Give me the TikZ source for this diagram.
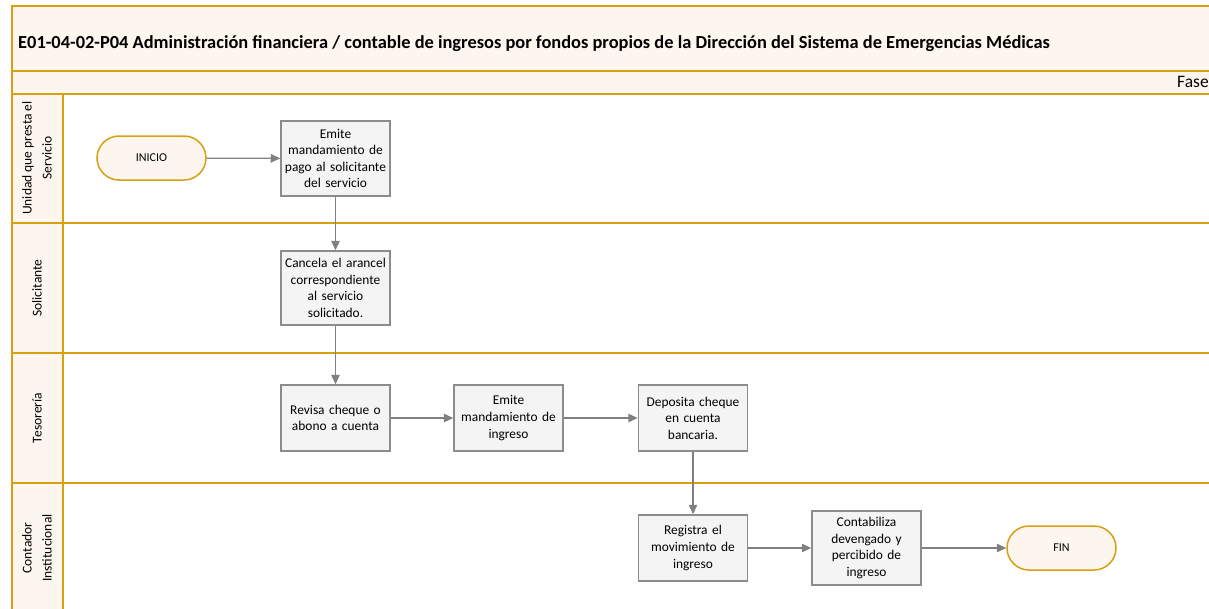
\documentclass[tikz,border=0pt]{standalone}
\usepackage{fontspec}
\setmainfont{Carlito}
\usetikzlibrary{arrows.meta}
\definecolor{gold}{RGB}{214,160,18}
\definecolor{cream}{RGB}{253,246,238}
\definecolor{boxfill}{RGB}{244,244,244}
\definecolor{boxline}{RGB}{140,140,140}
\definecolor{arr}{RGB}{128,128,128}
\tikzset{
  stepbox/.style={draw=boxline, fill=boxfill, line width=1.5pt, minimum width=109pt,
    text width=105pt, align=center, inner sep=1pt, font=\fontsize{13.4}{16.6}\selectfont},
  term/.style={draw=gold, fill=cream, line width=1.5pt, minimum width=109pt, minimum height=44pt,
    rounded corners=22pt, font=\fontsize{12}{14}\selectfont},
  lanelbl/.style={rotate=90, align=center, font=\fontsize{13.5}{20}\selectfont},
  lane/.style={draw=gold, line width=2pt},
  flow/.style={draw=arr, line width=1.3pt, -{Triangle[length=9.5pt,width=8.5pt]}}
}
\begin{document}
\begin{tikzpicture}[x=1pt,y=-1pt]
\useasboundingbox (0,0) rectangle (1209,608);
\clip (0,0) rectangle (1209,608);
% backgrounds
\fill[cream] (12,6) rectangle (1220,94);
\fill[cream] (12,94) rectangle (63,620);
% lines
\draw[lane] (12,620) -- (12,6) -- (1220,6);
\foreach \yy in {71,94,223,353,483} \draw[lane] (12,\yy) -- (1220,\yy);
\draw[lane] (63,94) -- (63,620);
% title
\node[anchor=west, font=\fontsize{18.4}{22}\selectfont\bfseries, inner sep=0pt] (title) at (18,44)
  {E01-04-02-P04 Administración financiera / contable de ingresos por fondos propios de la Dirección del Sistema de Emergencias Médicas};
\node[anchor=west, font=\fontsize{17.5}{20}\selectfont, inner sep=0pt] (fase) at (1177,82) {Fase};
% lane labels
\node[lanelbl] (l1) at (37,158) {Unidad que presta el\\Servicio};
\node[lanelbl] (l2) at (37,288) {Solicitante};
\node[lanelbl] (l3) at (37,418) {Tesorería};
\node[lanelbl] (l4) at (37,548) {Contador\\Institucional};
% nodes
\node[term] (inicio) at (151.5,158) {INICIO};
\node[stepbox, minimum height=75pt] (emite) at (335.5,158.5) {Emite\\mandamiento de\\pago al solicitante\\del servicio};
\node[stepbox, minimum height=74pt] (cancela) at (335.5,288) {Cancela el arancel\\correspondiente\\al servicio\\solicitado.};
\node[stepbox, minimum height=66pt] (revisa) at (335.5,418) {Revisa cheque o\\abono a cuenta};
\node[stepbox, minimum height=66pt] (emiteing) at (508.5,418) {Emite\\mandamiento de\\ingreso};
\node[stepbox, minimum height=66pt] (deposita) at (693,418) {Deposita cheque\\en cuenta\\bancaria.};
\node[stepbox, minimum height=66pt] (registra) at (693,548) {Registra el\\movimiento de\\ingreso};
\node[stepbox, minimum height=74pt] (contab) at (866.5,548) {Contabiliza\\devengado y\\percibido de\\ingreso};
\node[term] (fin) at (1061.5,548) {FIN};
% connectors
\draw[flow] (inicio) -- (emite);
\draw[flow] (emite) -- (cancela);
\draw[flow] (cancela) -- (revisa);
\draw[flow] (revisa) -- (emiteing);
\draw[flow] (emiteing) -- (deposita);
\draw[flow] (deposita) -- (registra);
\draw[flow] (registra) -- (contab);
\draw[flow] (contab) -- (fin);
\end{tikzpicture}
\end{document}
